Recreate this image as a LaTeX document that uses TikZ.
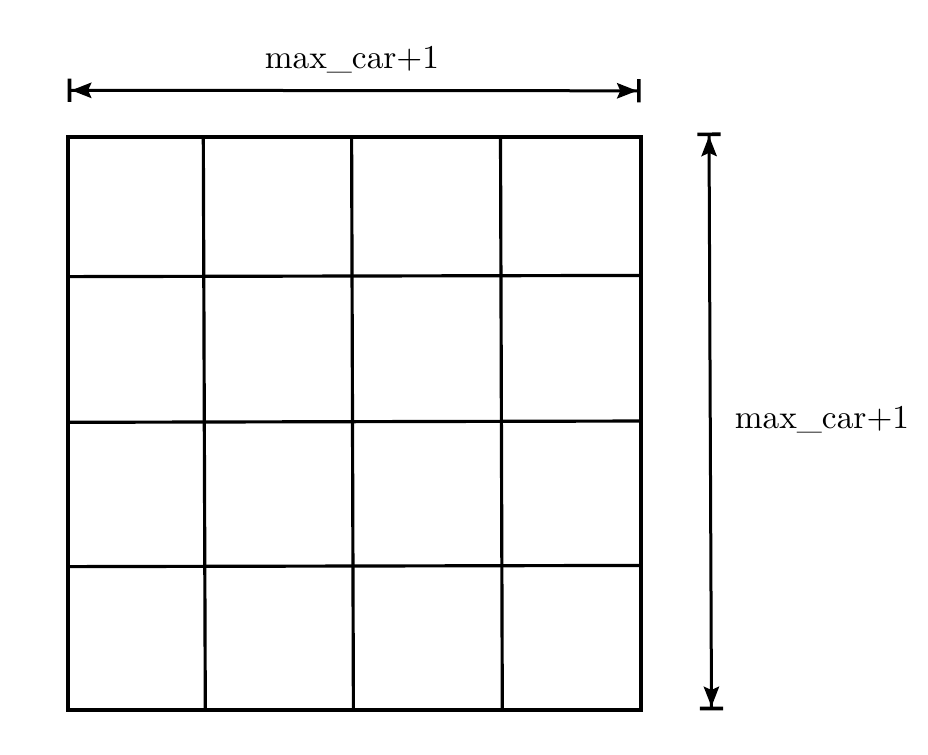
\documentclass[tikz,border=0pt]{standalone}
\usetikzlibrary{arrows.meta}
\begin{document}
\begin{tikzpicture}[x=0.3pt,y=-0.3pt,
  outer/.style={line width=1.2pt,line join=miter},
  inner/.style={line width=0.95pt},
  dimline/.style={line width=0.9pt,
    {Bar[width=7pt,line width=1.1pt]Stealth[length=6pt,width=4.6pt,inset=1pt]}-{Stealth[length=6pt,width=4.6pt,inset=1pt]Bar[width=7pt,line width=1.1pt]}},
  lbl/.style={font=\fontsize{10}{12}\selectfont,inner sep=0pt}]
\useasboundingbox (0,0) rectangle (928,754);
% grid
\draw[inner] (203.3,136) -- (205.3,710);
\draw[inner] (351.6,136) -- (353.4,710);
\draw[inner] (500.5,136) -- (502.3,710);
\draw[inner] (68,276.6) -- (640.7,275.4);
\draw[inner] (68,422.3) -- (640.7,421);
\draw[inner] (68,566.6) -- (640.7,565.4);
\draw[outer] (68,136.5) rectangle (640.7,710);
% dimension arrows
\coordinate (hl) at (67.7,90.3);
\coordinate (hr) at (640.7,90.8);
\coordinate (vt) at (709,132.5);
\coordinate (vb) at (711.5,710.3);
\draw[dimline] (hl) -- (hr);
\draw[dimline] (vt) -- (vb);
\node[lbl] (toplabel) at (352,60) {max\_car+1};
\node[lbl] (sidelabel) at (822,420) {max\_car+1};
\end{tikzpicture}
\end{document}
